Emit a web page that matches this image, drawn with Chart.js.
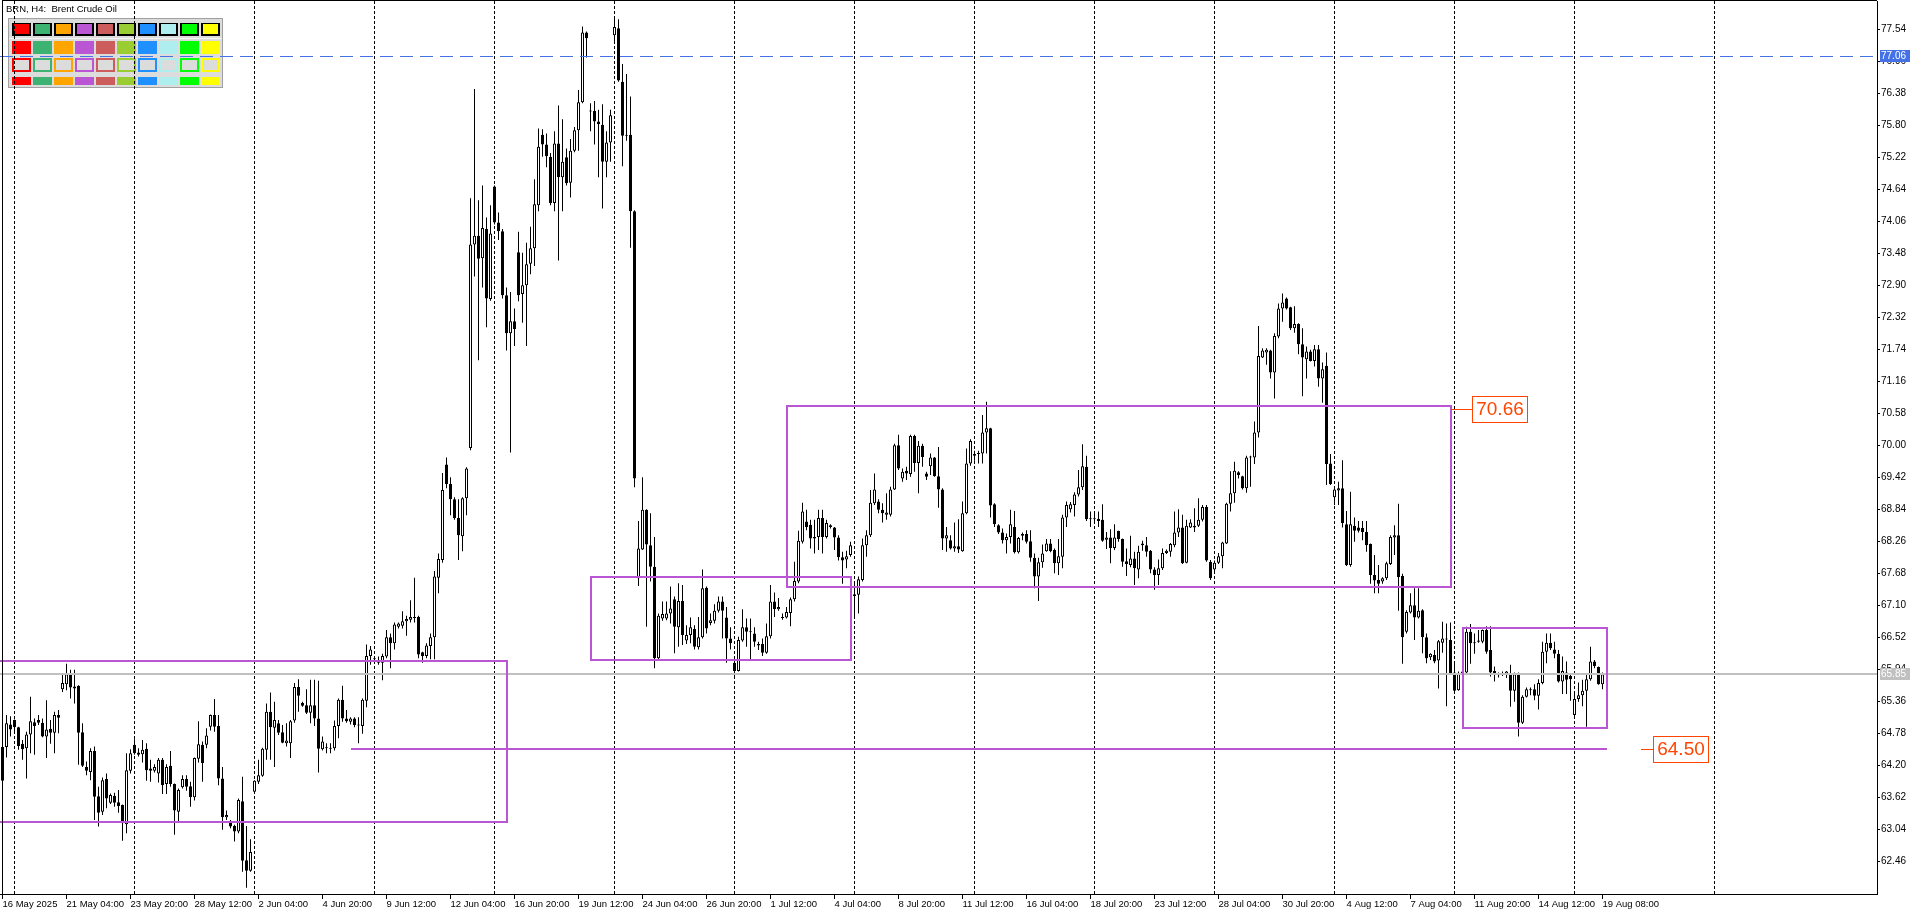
<!DOCTYPE html>
<html><head><meta charset="utf-8">
<script src="https://cdn.jsdelivr.net/npm/chart.js@4.4.1/dist/chart.umd.min.js"></script>
<style>html,body{margin:0;padding:0;background:#fff;overflow:hidden}#wrap{position:relative;width:1920px;height:915px}</style>
</head><body><div id="wrap"><canvas id="c"></canvas></div>
<script>
// ---- Brent H4 candles (bar index 0 = 16 May 2025 12:00) ----
const opens = [
64.53,64.53,64.94,65.02,64.89,64.59,64.51,64.76,64.98,65.02,
64.97,64.72,64.86,64.79,65.11,65.58,65.67,65.85,65.63,65.64,
64.80,64.17,64.08,64.46,63.64,63.36,63.95,63.52,63.65,63.53,
63.48,63.13,64.10,64.57,64.43,64.40,64.50,64.14,64.10,64.05,
64.30,63.86,64.19,63.86,63.36,63.80,63.95,63.82,63.62,64.32,
64.57,64.57,64.90,65.11,64.91,63.96,63.26,63.18,63.10,63.00,
63.55,62.48,62.29,63.72,63.90,64.01,64.48,65.17,64.88,64.96,
64.80,64.60,64.60,65.01,65.62,65.33,65.29,65.15,65.29,65.05,
64.49,64.51,64.51,64.51,64.91,65.39,65.05,64.99,65.05,64.93,
64.91,65.37,66.18,66.13,66.10,66.06,66.17,66.52,66.41,66.71,
66.73,66.81,66.84,66.89,66.89,66.25,66.18,66.36,66.52,67.60,
67.92,69.65,69.30,69.02,68.68,68.35,69.04,69.95,73.64,73.80,
73.39,73.92,72.65,74.69,74.04,73.88,72.72,72.03,72.25,73.50,
72.74,72.90,73.29,73.57,74.35,75.63,75.45,75.23,74.39,75.47,
74.86,75.22,74.76,75.34,75.71,76.22,77.48,76.06,76.06,75.87,
75.81,75.14,75.49,77.43,77.56,76.59,75.61,75.63,74.24,67.59,
68.11,68.83,68.19,67.80,66.14,66.86,66.86,66.95,67.21,66.70,
67.18,66.46,66.56,66.67,66.34,66.52,67.42,66.78,66.82,67.00,
67.17,66.88,66.50,66.06,65.91,66.46,66.70,66.62,66.59,66.40,
66.40,66.24,66.54,67.17,67.03,66.88,66.88,66.96,67.21,67.53,
68.25,68.62,68.56,68.34,68.34,68.68,68.34,68.52,68.51,68.33,
67.97,67.93,68.01,67.27,67.29,67.56,68.19,68.37,68.95,68.98,
68.83,68.74,68.74,69.20,70.00,69.40,69.54,69.48,70.17,69.68,
69.99,69.49,69.62,69.78,69.44,69.20,68.31,68.28,68.13,68.17,
68.08,68.77,69.67,69.84,69.85,69.85,70.23,70.31,68.93,68.55,
68.42,68.28,68.34,68.52,68.06,68.39,68.39,68.26,67.96,67.62,
67.88,68.08,68.22,68.10,67.86,67.98,68.69,68.84,68.92,69.11,
69.24,69.61,68.67,68.67,68.67,68.65,68.29,68.33,68.14,68.45,
68.30,67.90,67.83,67.95,67.75,68.19,68.19,68.09,67.75,67.65,
67.77,68.05,68.07,68.19,68.42,68.51,67.87,68.51,68.54,68.54,
68.65,68.88,67.89,67.75,67.87,67.99,68.22,68.94,69.13,69.51,
69.44,69.22,69.78,69.78,70.23,71.59,71.68,71.72,71.32,71.97,
72.48,72.66,72.50,72.12,72.20,71.83,71.56,71.70,71.53,71.74,
71.21,71.44,69.67,69.06,69.18,69.22,68.57,67.83,68.54,68.51,
68.50,68.43,68.21,67.65,67.56,67.53,67.59,67.85,68.33,68.37,
67.63,66.62,66.97,67.10,66.88,67.01,66.52,66.16,66.20,66.10,
66.42,66.48,66.47,65.88,65.56,65.87,65.88,66.62,66.41,66.44,
66.44,66.65,66.29,65.91,65.85,65.84,65.85,65.85,65.55,65.85,
64.97,65.44,65.56,65.58,65.46,65.69,66.26,66.42,66.30,66.22,
65.72,65.88,65.82,65.11,65.40,65.47,65.55,65.76,66.08,65.98,
65.67];
const highs = [
64.55,65.11,65.09,65.03,64.90,64.66,64.81,65.44,65.05,65.11,
65.05,65.38,65.02,65.17,65.20,65.85,66.04,65.93,65.93,65.65,
64.96,64.27,64.51,64.54,63.81,63.98,64.05,63.69,63.70,63.75,
63.49,64.42,64.49,64.67,64.51,64.66,64.60,64.30,64.22,64.33,
64.33,64.22,64.46,63.87,63.78,64.02,64.02,63.90,64.34,65.00,
64.63,64.87,65.12,65.40,65.11,64.17,63.38,63.21,63.12,63.60,
63.99,63.10,62.86,63.93,64.30,64.52,65.32,65.52,65.35,65.02,
64.93,64.96,65.02,65.69,65.76,65.35,65.58,65.75,65.75,65.73,
64.72,64.60,64.60,65.01,65.41,65.64,65.20,65.07,65.07,65.07,
65.41,66.39,66.36,66.18,66.17,66.22,66.65,66.59,66.79,66.79,
66.99,66.91,67.19,67.60,66.91,66.26,66.41,66.59,67.72,68.04,
69.50,69.78,69.42,69.06,69.02,69.06,69.60,74.48,76.46,74.44,
74.71,74.13,74.35,74.71,74.22,73.92,72.86,72.78,72.48,73.87,
73.49,73.67,73.96,74.82,75.74,75.73,75.65,75.30,75.69,76.16,
75.91,75.38,75.55,75.77,76.44,77.59,77.50,76.20,76.24,76.08,
76.18,75.69,76.08,77.78,77.72,76.91,76.73,76.32,74.26,68.63,
69.42,68.84,68.77,68.34,66.95,67.17,67.17,67.44,67.26,67.50,
67.47,66.74,66.88,66.74,66.89,67.75,67.44,66.95,67.12,67.26,
67.26,67.07,66.70,66.11,66.53,67.03,66.86,66.86,66.70,66.44,
66.50,66.77,67.47,67.33,67.23,66.95,67.07,67.24,67.89,68.45,
68.96,68.83,68.65,68.65,68.83,68.83,68.65,68.57,68.52,68.37,
68.07,68.09,68.25,67.50,67.62,68.31,68.46,69.19,69.49,69.02,
68.95,69.13,69.25,70.03,70.19,69.58,69.61,70.19,70.19,70.08,
70.03,69.52,69.85,69.79,69.97,69.22,68.52,68.37,68.60,68.66,
68.98,69.94,70.11,69.90,69.90,70.55,70.79,70.32,68.95,68.57,
68.49,68.40,68.83,68.81,68.34,68.42,68.46,68.46,68.04,67.96,
68.20,68.30,68.30,68.13,68.30,68.74,68.98,68.97,69.15,69.55,
70.02,69.81,68.80,68.80,68.80,68.93,68.43,68.48,68.57,68.45,
68.31,68.13,68.36,68.07,68.18,68.27,68.34,68.10,67.79,67.93,
68.13,68.11,68.23,68.80,68.84,68.74,68.65,68.66,68.86,69.04,
68.92,68.92,67.92,67.91,68.05,68.25,68.96,69.53,69.70,69.53,
69.45,69.81,69.81,70.43,72.16,71.76,71.76,71.73,72.03,72.57,
72.75,72.68,72.51,72.52,72.21,72.12,71.79,71.73,71.82,71.82,
71.50,71.68,69.84,69.24,69.34,69.73,68.81,69.16,68.69,68.63,
68.63,68.63,68.22,68.01,67.83,67.61,67.89,68.37,68.55,68.94,
67.67,67.01,67.32,67.41,67.41,67.03,66.59,66.23,66.29,66.47,
66.80,66.77,66.79,66.05,65.90,65.93,66.71,66.76,66.59,66.65,
66.66,66.72,66.72,65.99,65.88,65.90,65.91,66.02,65.88,65.88,
65.47,65.61,65.61,65.67,65.76,66.44,66.59,66.59,66.44,66.29,
66.17,66.08,65.87,65.49,65.70,65.75,65.84,66.35,66.11,65.99,
65.88];
const lows = [
63.90,64.34,64.72,64.81,64.48,64.30,63.96,64.42,64.39,64.93,
64.71,64.33,64.59,64.42,64.78,65.53,65.56,65.41,65.32,64.21,
64.17,64.02,63.93,63.21,63.09,63.30,63.42,63.50,63.45,63.34,
62.83,62.97,64.05,64.39,64.36,64.25,63.92,63.90,64.07,63.89,
63.68,63.68,63.81,62.94,63.18,63.78,63.74,63.45,63.56,64.25,
63.90,64.51,64.83,64.81,63.84,63.03,63.21,63.06,62.82,62.97,
62.27,61.98,62.27,63.69,63.86,63.99,64.30,64.30,64.17,64.75,
64.60,64.54,64.33,64.97,65.17,65.26,65.13,64.96,64.91,64.07,
64.47,64.42,64.42,64.47,64.69,64.99,64.97,64.94,64.89,64.60,
64.77,65.25,66.02,66.10,66.02,65.74,66.14,65.96,66.30,66.68,
66.68,66.55,66.79,66.79,66.14,66.06,66.14,66.12,66.12,67.32,
67.87,69.22,68.73,68.65,67.92,68.08,68.73,69.91,73.06,71.54,
72.86,72.14,72.62,74.00,73.72,72.66,71.72,69.87,71.80,72.61,
72.22,71.80,73.10,73.25,74.24,75.23,75.04,74.35,74.24,73.35,
74.24,74.71,74.49,75.31,75.34,76.20,77.03,75.69,75.45,74.86,
74.29,74.86,75.14,77.30,76.59,75.06,75.52,73.58,69.24,67.45,
68.10,66.71,67.53,65.96,66.12,66.82,66.83,66.77,66.23,66.35,
66.38,66.40,66.41,66.30,66.30,66.50,66.59,66.74,66.77,66.97,
66.50,66.06,66.30,65.78,65.90,66.44,66.35,66.11,66.35,66.29,
66.18,66.22,66.50,66.89,67.00,66.84,66.86,66.72,67.17,67.50,
68.22,68.46,68.13,68.04,68.10,68.04,68.31,68.49,68.10,67.91,
67.49,67.77,67.98,66.89,66.95,67.53,67.98,68.34,68.92,68.77,
68.60,68.65,68.71,69.19,69.55,69.34,69.37,69.43,69.52,69.13,
69.61,69.37,69.46,69.43,68.87,68.10,68.07,68.11,68.07,68.05,
68.07,68.75,69.63,69.72,69.67,69.67,69.85,68.69,68.52,68.39,
68.22,68.04,68.22,68.04,68.04,68.28,68.22,67.89,67.41,67.18,
67.78,68.07,68.06,67.68,67.65,67.77,68.52,68.78,68.71,69.07,
69.19,68.63,68.52,68.61,68.52,68.25,68.12,67.86,68.10,68.25,
67.80,67.63,67.79,67.47,67.59,68.09,67.98,67.68,67.38,67.47,
67.74,68.03,67.98,68.15,68.34,67.85,67.86,68.50,68.43,68.52,
68.62,67.89,67.56,67.71,67.85,67.77,68.21,68.80,68.96,69.40,
69.20,69.14,69.25,69.66,70.14,71.58,71.46,71.21,70.85,71.94,
72.24,72.46,72.09,72.04,71.65,70.89,71.21,71.52,71.43,71.06,
70.77,69.28,69.28,68.92,68.92,68.51,67.81,67.80,68.25,68.42,
68.28,68.07,67.49,67.32,67.32,67.49,67.56,67.83,68.01,67.00,
66.04,66.59,66.95,66.47,66.86,66.23,66.05,66.11,66.05,65.59,
66.24,65.27,65.86,65.54,65.55,65.86,65.86,66.04,66.22,66.42,
66.41,66.22,65.81,65.72,65.79,65.82,65.78,65.26,65.35,64.72,
64.95,65.43,65.47,65.38,65.21,65.67,66.05,66.29,66.14,65.70,
65.49,65.49,65.37,65.09,65.35,65.27,64.90,65.73,65.96,65.66,
65.58];
const closes = [
63.92,64.96,64.85,64.89,64.55,64.49,64.76,65.00,64.91,64.97,
64.72,64.85,64.79,65.11,65.06,65.69,65.85,65.61,65.59,64.79,
64.19,64.10,64.46,63.63,63.34,63.93,63.60,63.66,63.52,63.46,
63.15,64.11,64.42,64.42,64.39,64.48,64.11,64.10,64.17,64.30,
63.84,64.17,63.86,63.38,63.75,63.95,63.81,63.62,64.33,64.58,
64.24,64.74,65.11,64.90,63.96,63.26,63.30,63.09,63.00,63.57,
62.47,62.29,62.63,63.92,64.02,64.50,65.17,64.89,65.02,64.79,
64.61,64.65,65.00,65.62,65.46,65.28,65.15,65.29,65.05,64.50,
64.63,64.52,64.50,64.91,65.39,65.05,65.00,65.05,64.93,64.92,
65.39,66.18,66.30,66.12,66.06,66.18,66.52,66.41,66.75,66.77,
66.81,66.85,66.89,66.87,66.21,66.18,66.37,66.52,67.62,67.94,
69.19,69.30,69.02,68.68,68.37,69.04,69.58,73.64,73.80,73.38,
73.94,72.66,73.84,74.04,73.88,72.72,72.03,72.25,72.11,72.72,
72.90,73.28,73.57,74.37,75.41,75.45,75.24,74.39,75.47,74.86,
75.14,74.75,75.34,75.71,76.22,77.48,77.38,76.05,75.87,75.82,
75.14,75.49,75.98,77.58,76.61,75.61,75.63,74.24,69.40,68.13,
68.83,68.20,67.80,66.14,66.91,66.94,66.95,67.04,66.71,67.18,
66.56,66.56,66.70,66.35,66.52,67.41,66.68,66.83,67.00,67.17,
67.00,66.50,66.41,65.91,66.47,66.70,66.62,66.61,66.44,66.37,
66.24,66.54,67.17,67.03,67.07,66.87,66.98,67.21,67.54,68.27,
68.80,68.52,68.31,68.31,68.68,68.34,68.59,68.55,68.33,67.97,
67.91,67.99,68.19,67.30,67.57,68.19,68.37,68.96,69.20,68.83,
68.77,68.78,69.20,70.00,69.58,69.52,69.49,70.17,69.68,69.99,
69.79,69.43,69.78,69.44,69.20,68.31,68.37,68.13,68.17,68.11,
68.77,69.67,70.08,69.81,69.84,70.23,70.31,68.91,68.57,68.42,
68.28,68.34,68.57,68.06,68.32,68.36,68.25,67.96,67.62,67.88,
68.04,68.22,68.08,67.86,67.99,68.69,68.92,68.93,69.11,69.24,
69.62,68.66,68.66,68.66,68.63,68.27,68.33,68.14,68.33,68.30,
67.89,67.85,67.95,67.77,68.07,68.22,68.07,67.75,67.65,67.77,
68.05,68.09,68.21,68.42,68.51,67.86,68.54,68.60,68.51,68.65,
68.88,67.91,67.59,67.87,67.99,68.24,68.94,69.13,69.54,69.46,
69.22,69.78,69.79,70.23,71.62,71.72,71.73,71.32,71.98,72.48,
72.59,72.48,72.12,72.20,71.83,71.59,71.70,71.53,71.74,71.21,
71.38,69.66,69.30,69.20,69.22,68.59,67.83,68.57,68.45,68.45,
68.43,68.19,67.65,67.55,67.49,67.59,67.86,68.34,68.37,67.61,
66.52,66.98,67.10,66.88,67.00,66.52,66.14,66.22,66.08,66.45,
66.50,66.50,65.87,65.55,65.87,65.90,66.62,66.41,66.42,66.46,
66.65,66.26,65.88,65.84,65.83,65.87,65.90,65.55,65.85,64.97,
65.44,65.58,65.58,65.46,65.69,66.26,66.42,66.32,66.22,65.72,
65.91,65.75,65.76,65.40,65.47,65.55,65.76,66.08,66.00,65.67,
65.85];

// x-axis labels, one every 16 bars
const xTickLabels = ['16 May 2025','21 May 04:00','23 May 20:00','28 May 12:00','2 Jun 04:00','4 Jun 20:00',
 '9 Jun 12:00','12 Jun 04:00','16 Jun 20:00','19 Jun 12:00','24 Jun 04:00','26 Jun 20:00','1 Jul 12:00',
 '4 Jul 04:00','8 Jul 20:00','11 Jul 12:00','16 Jul 04:00','18 Jul 20:00','23 Jul 12:00','28 Jul 04:00',
 '30 Jul 20:00','4 Aug 12:00','7 Aug 04:00','11 Aug 20:00','14 Aug 12:00','19 Aug 08:00'];
// weekly separators (Monday 00:00 bars, last one in the empty future area)
const weekStartBars = [3,33,63,93,123,153,183,213,243,273,303,333,363,393,428];
// price axis ticks
const yTicks = [62.46,63.04,63.62,64.20,64.78,65.36,65.94,66.52,67.10,67.68,68.26,68.84,69.42,70.00,
 70.58,71.16,71.74,72.32,72.90,73.48,74.06,74.64,75.22,75.80,76.38,76.96,77.54];

// rectangles drawn on the chart
const boxStartBar = [-3, 147, 196, 365];
const boxEndBar   = [126, 212, 362, 401];
const boxLow      = [63.18, 66.10, 67.44, 64.87];
const boxHigh     = [66.09, 67.62, 70.72, 66.69];
// horizontal level line
const levelLine = {price: 64.50, fromBar: 87, toBar: 401};
// price tags
const tagText  = ['70.66', '64.50'];
const tagPrice = [70.66, 64.50];
const tagFromBar = [362, 409.6];
const tagBar   = [367.4, 412.6];
// horizontal price lines
const bidPrice = 65.85;
const alertPrice = 77.06;

const paletteColors = ['#ff0000','#3cb371','#ffa500','#ba55d3','#cd5c5c','#9acd32','#1e90ff','#afeeee','#00ff00','#ffff00'];

const FONT = "'Liberation Sans', Arial, sans-serif";
Chart.defaults.font.family = FONT;

const labelBars = xTickLabels.map((t, k) => k * 16);
const labelMap = new Map(xTickLabels.map((t, k) => [k * 16, t]));

const wickData = lows.map((l, i) => ({x: i, y: [l, highs[i]]}));
const bodyData = opens.map((o, i) => ({x: i, y: [o, closes[i]]}));

function drawPalette(ctx) {
  ctx.fillStyle = '#a0a0a0'; ctx.fillRect(8, 18, 215, 70);
  ctx.fillStyle = '#dcdcdc'; ctx.fillRect(9, 19, 213, 68);
  ctx.fillStyle = '#f4f4f4'; ctx.fillRect(9, 38, 213, 1);
  paletteColors.forEach((c, k) => {
    const x = 12 + 21 * k;
    ctx.fillStyle = '#000'; ctx.fillRect(x, 23, 19, 13);
    ctx.fillStyle = c; ctx.fillRect(x + 2, 24, 15, 10);
    ctx.fillRect(x, 41, 19, 13);
    ctx.fillRect(x, 58, 19, 14);
    ctx.fillStyle = '#dcdcdc'; ctx.fillRect(x + 2, 60, 15, 10);
    ctx.fillStyle = c; ctx.fillRect(x, 77, 19, 8);
  });
}

function hLine(ctx, x0, x1, y, w) { ctx.fillRect(Math.round(x0), Math.round(y) - Math.floor(w / 2), Math.round(x1) - Math.round(x0), w); }
function vLine(ctx, x, y0, y1, w) { ctx.fillRect(Math.round(x) - Math.floor(w / 2), Math.round(y0), w, Math.round(y1) - Math.round(y0)); }

const overlay = {
  id: 'overlay',
  beforeDraw(chart) {
    const ctx = chart.ctx;
    ctx.save();
    ctx.fillStyle = '#fff'; ctx.fillRect(0, 0, chart.width, chart.height);
    drawPalette(ctx);
    ctx.restore();
  },
  beforeDatasetsDraw(chart) {
    const ctx = chart.ctx, xs = chart.scales.x, a = chart.chartArea;
    ctx.save();
    // weekly dotted separators
    ctx.strokeStyle = '#000'; ctx.lineWidth = 1; ctx.setLineDash([3, 2]);
    weekStartBars.forEach(b => {
      const x = Math.floor(xs.getPixelForValue(b)) + 0.5;
      if (x > a.right) return;
      ctx.beginPath(); ctx.moveTo(x, a.top); ctx.lineTo(x, a.bottom); ctx.stroke();
    });
    ctx.setLineDash([]);
    // tick marks under label positions
    ctx.fillStyle = '#000';
    labelBars.forEach(b => { ctx.fillRect(Math.floor(xs.getPixelForValue(b)), a.bottom, 1, 5); });
    ctx.restore();
  },
  afterDatasetsDraw(chart) {
    const ctx = chart.ctx, xs = chart.scales.x, ys = chart.scales.y, a = chart.chartArea;
    ctx.save();
    ctx.beginPath(); ctx.rect(a.left, a.top, a.right - a.left, a.bottom - a.top); ctx.clip();
    ctx.fillStyle = '#c0c0c0';
    hLine(ctx, a.left, a.right, ys.getPixelForValue(bidPrice), 2);
    ctx.fillStyle = '#ba55d3';
    for (let k = 0; k < boxStartBar.length; k++) {
      const x0 = xs.getPixelForValue(boxStartBar[k]), x1 = xs.getPixelForValue(boxEndBar[k]);
      const yT = ys.getPixelForValue(boxHigh[k]), yB = ys.getPixelForValue(boxLow[k]);
      hLine(ctx, x0, x1 + 1, yT, 2); hLine(ctx, x0, x1 + 1, yB, 2);
      vLine(ctx, x0, yT - 1, yB + 1, 2); vLine(ctx, x1, yT - 1, yB + 1, 2);
    }
    hLine(ctx, xs.getPixelForValue(levelLine.fromBar), xs.getPixelForValue(levelLine.toBar), ys.getPixelForValue(levelLine.price), 2);
    const ya = Math.round(ys.getPixelForValue(alertPrice)) + 0.5;
    ctx.strokeStyle = '#4472e6'; ctx.lineWidth = 1; ctx.setLineDash([13, 7]);
    ctx.beginPath(); ctx.moveTo(a.left, ya); ctx.lineTo(a.right, ya); ctx.stroke();
    ctx.setLineDash([]);
    ctx.font = '19px ' + FONT; ctx.textBaseline = 'middle'; ctx.textAlign = 'center';
    for (let k = 0; k < tagText.length; k++) {
      const y = Math.round(ys.getPixelForValue(tagPrice[k]));
      const xl = Math.round(xs.getPixelForValue(tagBar[k]));
      const xf = Math.round(xs.getPixelForValue(tagFromBar[k]));
      const w = Math.round(ctx.measureText(tagText[k]).width) + 8, h = 27;
      ctx.fillStyle = '#ff4500'; ctx.fillRect(xf, y, xl - xf, 1);
      ctx.fillStyle = '#fff'; ctx.fillRect(xl, y - 13, w, h);
      ctx.strokeStyle = '#ff4500'; ctx.strokeRect(xl + 0.5, y - 13 + 0.5, w - 1, h - 1);
      ctx.fillStyle = '#ff4500'; ctx.fillText(tagText[k], xl + w / 2, y + 1);
    }
    ctx.restore();
  },
  afterDraw(chart) {
    const ctx = chart.ctx, ys = chart.scales.y, a = chart.chartArea;
    ctx.save();
    ctx.fillStyle = '#000';
    ctx.fillRect(2, 0, 1, a.bottom); ctx.fillRect(2, 0, a.right - 2, 1);
    ctx.font = '9.5px ' + FONT; ctx.textBaseline = 'alphabetic'; ctx.textAlign = 'left';
    ctx.fillText('BRN, H4:  Brent Crude Oil', 6, 12);
    const tag = (price, bg) => {
      const y = Math.round(ys.getPixelForValue(price));
      ctx.fillStyle = bg; ctx.fillRect(a.right + 3, y - 6, 30, 12);
      ctx.fillStyle = '#fff'; ctx.font = '10px ' + FONT; ctx.textBaseline = 'middle';
      ctx.fillText(price.toFixed(2), a.right + 4, y + 0.5);
    };
    tag(alertPrice, '#4472e6');
    tag(bidPrice, '#c0c0c0');
    ctx.restore();
  }
};

new Chart(document.getElementById('c'), {
  type: 'bar',
  data: { datasets: [
    { label: 'body', data: bodyData, order: 0, grouped: false, barThickness: 3, minBarLength: 1,
      borderWidth: 1, borderColor: '#000', borderSkipped: false, inflateAmount: 0,
      backgroundColor: c => closes[c.dataIndex] >= opens[c.dataIndex] ? '#fff' : '#000' },
    { label: 'wick', data: wickData, order: 1, grouped: false, barThickness: 1,
      borderWidth: 0, backgroundColor: '#000', borderSkipped: false, inflateAmount: 0 }
  ]},
  options: {
    responsive: true, maintainAspectRatio: false, animation: false, events: [],
    layout: { padding: { top: 1, left: 0, right: 0, bottom: 0 } },
    plugins: { legend: { display: false }, tooltip: { enabled: false } },
    scales: {
      x: {
        type: 'linear', min: -0.625, max: 468.625, offset: false,
        afterBuildTicks: s => { s.ticks = labelBars.map(v => ({ value: v })); },
        afterFit: s => { s.height = 21; s.paddingLeft = 0; s.paddingRight = 0; },
        grid: { display: true, drawOnChartArea: false, drawTicks: true, tickLength: 4, color: 'rgba(0,0,0,0)', tickColor: 'rgba(0,0,0,0)' },
        border: { display: true, color: '#000', width: 1 },
        ticks: {
          autoSkip: false, maxRotation: 0, minRotation: 0, align: 'start', padding: 1,
          color: '#000', font: { size: 9.5 },
          callback: v => labelMap.has(v) ? labelMap.get(v) : ''
        }
      },
      y: {
        position: 'right', min: 61.867, max: 78.053,
        afterBuildTicks: s => { s.ticks = yTicks.map(v => ({ value: v })); },
        afterFit: s => { s.width = 43; s.paddingTop = 0; s.paddingBottom = 0; },
        grid: { drawOnChartArea: false, drawTicks: true, tickLength: 3, color: '#000' },
        border: { display: true, color: '#000', width: 1 },
        ticks: { autoSkip: false, padding: 1, color: '#000', font: { size: 10 }, callback: v => Number(v).toFixed(2) }
      }
    }
  },
  plugins: [overlay]
});
</script></body></html>
